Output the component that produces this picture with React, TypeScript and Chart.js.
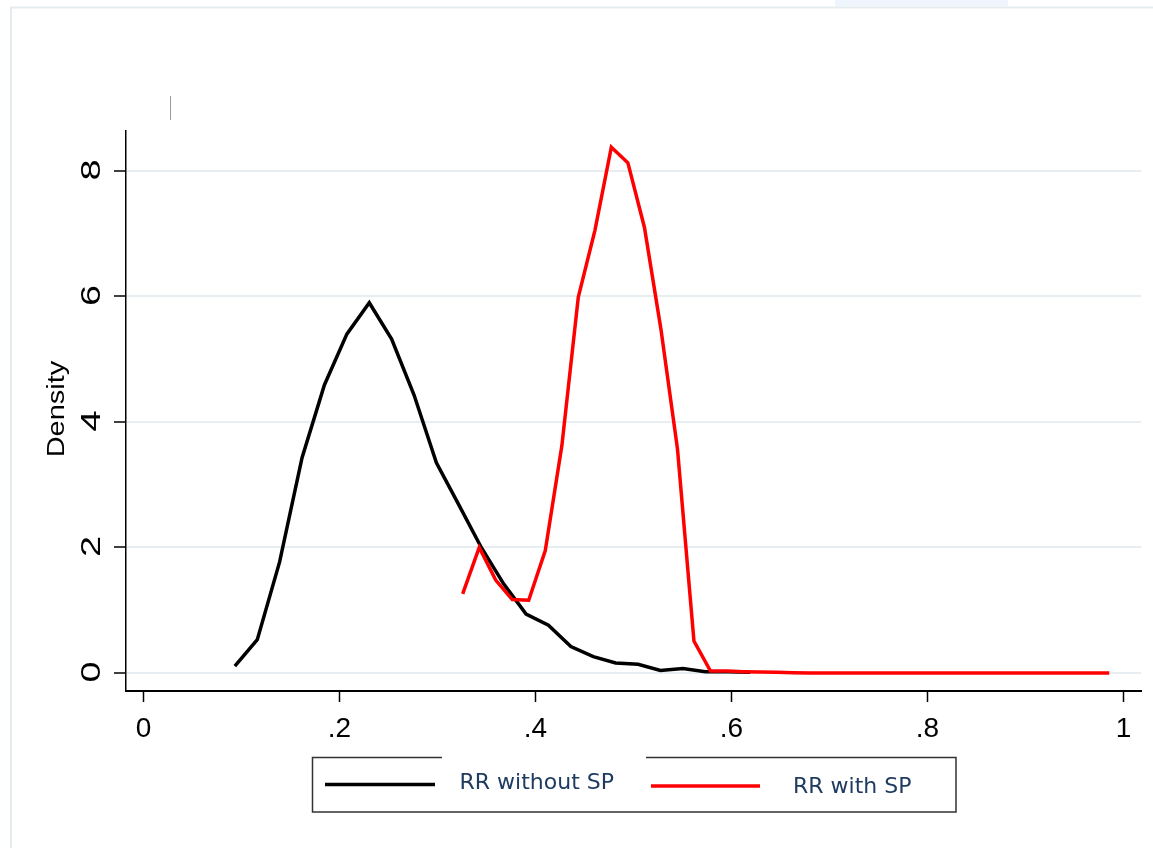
import React, { useEffect, useRef } from "react";
import { Chart, registerables } from "chart.js";

Chart.register(...registerables);

// ---- data ----
const xTicks = [0, 0.2, 0.4, 0.6, 0.8, 1];
const xTickLabels = ["0", ".2", ".4", ".6", ".8", "1"];
const yTicks = [0, 2, 4, 6, 8];
const yTickLabels = ["0", "2", "4", "6", "8"];
const yTitle = "Density";
const seriesNames = ["RR without SP", "RR with SP"];
const seriesColors = ["#000000", "#ff0000"];

const xBlack = [
  0.0932, 0.1161, 0.1389, 0.1618, 0.1846, 0.2075, 0.2304, 0.2532, 0.2761, 0.2989,
  0.3218, 0.3447, 0.3675, 0.3904, 0.4132, 0.4361, 0.459, 0.4818, 0.5047, 0.5275,
  0.5504, 0.5733, 0.5961, 0.619,
];
const yBlack = [
  0.11, 0.53, 1.77, 3.43, 4.59, 5.4, 5.9, 5.32, 4.43, 3.35,
  2.68, 2.0, 1.42, 0.94, 0.76, 0.42, 0.26, 0.16, 0.14, 0.04,
  0.07, 0.02, 0.02, 0.01,
];

const xRed = [
  0.3257, 0.3426, 0.3594, 0.3763, 0.3931, 0.41, 0.4269, 0.4437, 0.4606, 0.4774,
  0.4943, 0.5112, 0.528, 0.5449, 0.5617, 0.5786, 0.5955, 0.6123, 0.6292, 0.646,
  0.6629, 0.6798, 0.6966, 0.7135, 0.7303, 0.7472, 0.7641, 0.7809, 0.7978, 0.8146,
  0.8315, 0.8484, 0.8652, 0.8821, 0.8989, 0.9158, 0.9327, 0.9495, 0.9664, 0.9855,
];
const yRed = [
  1.26, 2.0, 1.48, 1.17, 1.16, 1.95, 3.62, 5.99, 7.05, 8.38,
  8.13, 7.1, 5.48, 3.57, 0.51, 0.03, 0.03, 0.02, 0.015, 0.01,
  0.005, 0, 0, 0, 0, 0, 0, 0, 0, 0,
  0, 0, 0, 0, 0, 0, 0, 0, 0, 0,
];

const toPoints = (xs: number[], ys: number[]) => xs.map((x, i) => ({ x, y: ys[i] }));

const W = 1153;
const H = 848;

const decorPlugin = {
  id: "stataDecor",
  beforeDraw(chart: any) {
    const ctx = chart.ctx;
    ctx.save();
    ctx.fillStyle = "#ffffff";
    ctx.fillRect(0, 0, W, H);
    // faint blob at top
    ctx.fillStyle = "#eef5fc";
    ctx.fillRect(835, 0, 173, 6);
    // outer frame
    ctx.strokeStyle = "#e4ecef";
    ctx.lineWidth = 2;
    ctx.beginPath();
    ctx.moveTo(11, H);
    ctx.lineTo(11, 7.5);
    ctx.lineTo(W, 7.5);
    ctx.stroke();
    // small gray mark
    ctx.strokeStyle = "#9a9a9a";
    ctx.lineWidth = 1;
    ctx.beginPath();
    ctx.moveTo(170.5, 96);
    ctx.lineTo(170.5, 120);
    ctx.stroke();
    ctx.restore();
  },
  afterDraw(chart: any) {
    const ctx = chart.ctx;
    const xs = chart.scales.x;
    const ys = chart.scales.y;
    const area = chart.chartArea;
    ctx.save();
    ctx.fillStyle = "#000";
    // x tick labels
    ctx.font = "28px 'Liberation Sans', Arial, sans-serif";
    ctx.textAlign = "center";
    ctx.textBaseline = "alphabetic";
    xTicks.forEach((v, i) => {
      ctx.fillText(xTickLabels[i], xs.getPixelForValue(v), area.bottom + 46);
    });
    // y tick labels (rotated)
    yTicks.forEach((v, i) => {
      const py = ys.getPixelForValue(v);
      ctx.save();
      ctx.translate(100, py - 1);
      ctx.rotate(-Math.PI / 2);
      ctx.scale(1.35, 1);
      ctx.fillText(yTickLabels[i], 0, 0);
      ctx.restore();
    });
    // y title
    ctx.font = "23px 'Liberation Sans', Arial, sans-serif";
    ctx.save();
    ctx.translate(64, 409);
    ctx.rotate(-Math.PI / 2);
    ctx.scale(1.26, 1);
    ctx.fillText(yTitle, 0, 0);
    ctx.restore();

    // legend box with gap in top border
    ctx.strokeStyle = "#333333";
    ctx.lineWidth = 1.5;
    ctx.beginPath();
    ctx.moveTo(442, 757.5);
    ctx.lineTo(312.5, 757.5);
    ctx.lineTo(312.5, 812);
    ctx.lineTo(956, 812);
    ctx.lineTo(956, 757.5);
    ctx.lineTo(646, 757.5);
    ctx.stroke();
    // legend keys
    ctx.lineWidth = 3.5;
    ctx.strokeStyle = seriesColors[0];
    ctx.beginPath();
    ctx.moveTo(325, 784.5);
    ctx.lineTo(435, 784.5);
    ctx.stroke();
    ctx.strokeStyle = seriesColors[1];
    ctx.beginPath();
    ctx.moveTo(651, 786);
    ctx.lineTo(760, 786);
    ctx.stroke();
    // legend labels
    ctx.fillStyle = "#1f3c60";
    ctx.font = "22px 'DejaVu Sans', Verdana, sans-serif";
    ctx.textAlign = "left";
    ctx.fillText(seriesNames[0], 459.5, 788.5);
    ctx.fillText(seriesNames[1], 793, 793);
    ctx.restore();
  },
};

export default function App() {
  const canvasRef = useRef<HTMLCanvasElement | null>(null);

  useEffect(() => {
    const canvas = canvasRef.current;
    if (!canvas) return;
    const chart = new Chart(canvas, {
      type: "line",
      data: {
        datasets: [
          {
            label: seriesNames[0],
            data: toPoints(xBlack, yBlack),
            borderColor: seriesColors[0],
            backgroundColor: seriesColors[0],
            borderWidth: 3.5,
            pointRadius: 0,
            tension: 0,
            fill: false,
            order: 2,
          },
          {
            label: seriesNames[1],
            data: toPoints(xRed, yRed),
            borderColor: seriesColors[1],
            backgroundColor: seriesColors[1],
            borderWidth: 3.5,
            pointRadius: 0,
            tension: 0,
            fill: false,
            order: 1,
          },
        ],
      },
      options: {
        animation: false,
        responsive: false,
        devicePixelRatio: 1,
        layout: { padding: { top: 131, right: 12, left: 0, bottom: 0 } },
        plugins: {
          legend: { display: false },
          title: { display: false },
          tooltip: { enabled: false },
        },
        scales: {
          x: {
            type: "linear",
            min: -0.01786,
            max: 1.0179,
            afterFit: (scale: any) => {
              scale.height = 157;
            },
            afterBuildTicks: (scale: any) => {
              scale.ticks = xTicks.map((v) => ({ value: v }));
            },
            ticks: { display: false },
            grid: {
              drawOnChartArea: false,
              drawTicks: true,
              tickLength: 11,
              tickColor: "#000",
              tickWidth: 1.5,
            },
            border: { display: true, color: "#000", width: 2 },
          },
          y: {
            type: "linear",
            min: -0.2869,
            max: 8.637,
            afterFit: (scale: any) => {
              scale.width = 126;
            },
            afterBuildTicks: (scale: any) => {
              scale.ticks = yTicks.map((v) => ({ value: v }));
            },
            ticks: { display: false },
            grid: {
              color: "#e6eef2",
              lineWidth: 2,
              drawTicks: true,
              tickLength: 12,
              tickColor: "#000",
              tickWidth: 1.5,
            },
            border: { display: true, color: "#000", width: 1.5 },
          },
        },
      },
      plugins: [decorPlugin],
    });
    return () => chart.destroy();
  }, []);

  return (
    <div
      style={{
        position: "fixed",
        left: 0,
        top: 0,
        width: W,
        height: H,
        background: "#fff",
        overflow: "hidden",
      }}
    >
      <canvas ref={canvasRef} width={W} height={H} style={{ width: W, height: H, display: "block" }} />
    </div>
  );
}
